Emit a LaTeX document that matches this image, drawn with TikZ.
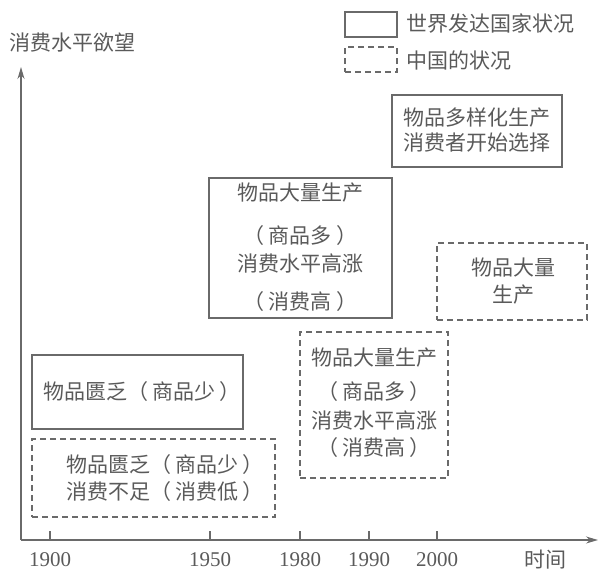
\documentclass[tikz,border=0pt]{standalone}
\usepackage{fontspec}
\setmainfont{Liberation Serif}
\newfontfamily\cjk{Noto Sans CJK SC}
\usetikzlibrary{arrows.meta}
\definecolor{txtc}{HTML}{5A5A5A}
\definecolor{linec}{HTML}{6A6A6A}
\newcommand{\lp}{（\hspace{0.2em}}
\newcommand{\rp}{\hspace{0.2em}）}
\begin{document}
\begin{tikzpicture}[x=1pt,y=-1pt,
  txt/.style={text=txtc, font=\cjk\fontsize{21}{24}\selectfont, inner sep=0pt},
  num/.style={text=txtc, font=\fontsize{21}{24}\selectfont, inner sep=0pt},
  solidbox/.style={draw=linec, line width=1.3pt, inner sep=0pt},
  dashbox/.style={draw=linec, line width=1.2pt, inner sep=0pt, dash pattern=on 6pt off 4pt},
  axis/.style={draw=linec, line width=1.3pt, -{Stealth[length=12pt,width=7pt]}},
  tick/.style={draw=linec, line width=1.2pt}
]
\useasboundingbox (0,0) rectangle (599,570);

% axes
\coordinate (o) at (21,540);
\coordinate (ytop) at (21,67);
\coordinate (xend) at (598,540);
\draw[axis] (o) -- (ytop);
\draw[axis] (o) -- (xend);
\node[txt] (ylab) at (72.5,43) {消费水平欲望};
\node[txt] (xlab) at (545,560) {时间};

% ticks and year labels
\foreach \x/\yr in {50/1900,210/1950,300/1980,369/1990,437/2000}{
  \coordinate (t\yr) at (\x,540);
  \draw[tick] (t\yr) -- ++(0,-9);
  \node[num] (l\yr) at (\x,560) {\yr};
}

% legend
\node[solidbox, minimum width=52pt, minimum height=25pt] (legs) at (371,24.5) {};
\node[txt, anchor=west] (legst) at (406,24) {世界发达国家状况};
\node[dashbox, minimum width=52pt, minimum height=25pt] (legd) at (371,59.5) {};
\node[txt, anchor=west] (legdt) at (406,60) {中国的状况};

% top solid box
\node[solidbox, minimum width=170pt, minimum height=72pt] (b1) at (477,131) {};
\node[txt] (b1a) at (477,118) {物品多样化生产};
\node[txt] (b1b) at (477,143) {消费者开始选择};

% middle solid box
\node[solidbox, minimum width=183pt, minimum height=140pt] (b2) at (300.5,248) {};
\node[txt] (b2a) at (300.5,193) {物品大量生产};
\node[txt] (b2b) at (300.5,236) {\lp 商品多\rp};
\node[txt] (b2c) at (300.5,263) {消费水平高涨};
\node[txt] (b2d) at (300.5,302) {\lp 消费高\rp};

% right dashed box
\node[dashbox, minimum width=150pt, minimum height=77pt] (c1) at (512,281.5) {};
\node[txt] (c1a) at (513,268) {物品大量};
\node[txt] (c1b) at (513,295) {生产};

% lower middle dashed box
\node[dashbox, minimum width=148pt, minimum height=146pt] (c2) at (374,405) {};
\node[txt] (c2a) at (374,358) {物品大量生产};
\node[txt] (c2b) at (374,392) {\lp 商品多\rp};
\node[txt] (c2c) at (374,420) {消费水平高涨};
\node[txt] (c2d) at (374,448) {\lp 消费高\rp};

% bottom solid box
\node[solidbox, minimum width=211pt, minimum height=74pt] (b3) at (137.5,392) {};
\node[txt] (b3a) at (142,392) {物品匮乏\lp 商品少\rp};

% bottom dashed box
\node[dashbox, minimum width=243pt, minimum height=78pt] (c3) at (153.5,478) {};
\node[txt] (c3a) at (165,465) {物品匮乏\lp 商品少\rp};
\node[txt] (c3b) at (165,492) {消费不足\lp 消费低\rp};
\end{tikzpicture}
\end{document}
